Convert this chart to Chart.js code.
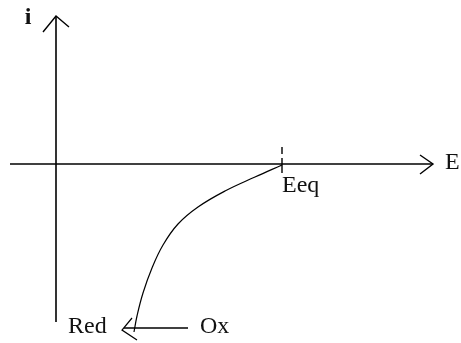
<!DOCTYPE html>
<html>
<head>
<meta charset="utf-8">
<script src="https://cdn.jsdelivr.net/npm/chart.js@4"></script>
<style>
  html, body { margin: 0; padding: 0; background: #fff; }
  canvas { display: block; }
</style>
</head>
<body>
<canvas id="chart-sketch" width="461" height="343"></canvas>
<script>
// i-E sketch: axes, reduction wave from Eeq down to Red <- Ox
const eAxis = [{ x: -46, y: 0 }, { x: 377, y: 0 }];
const eArrow = [{ x: 364, y: 9 }, { x: 377, y: 0 }, { x: 364, y: -10 }];
const iAxis = [{ x: 0, y: -158 }, { x: 0, y: 148 }];
const iArrow = [{ x: -13, y: 132 }, { x: 0, y: 148 }, { x: 13, y: 137 }];
const eqTickTop = [{ x: 226, y: 17 }, { x: 226, y: 10 }];
const eqTickBottom = [{ x: 226, y: 6 }, { x: 226, y: -9 }];

const curveE = [226, 199, 169, 142, 122, 107, 96, 87, 81, 78];
const curveI = [-1, -13, -27, -43, -60, -81, -104, -129, -152, -168];

const oxLine = [{ x: 132, y: -164 }, { x: 68, y: -164 }];
const redArrow = [{ x: 76, y: -154 }, { x: 66, y: -166 }, { x: 81, y: -176 }];

const labels = [
    { text: 'i', x: -28, y: 146, align: 'center', bold: true },
    { text: 'E', x: 389, y: 1, align: 'left' },
    { text: 'Eeq', x: 226, y: -22, align: 'left' },
    { text: 'Red', x: 12, y: -163, align: 'left' },
    { text: 'Ox', x: 144, y: -163, align: 'left' },
];

const INK = '#000';

function lineSet(data, width, extra) {
    return {
        data,
        showLine: true,
        borderColor: INK,
        borderWidth: width,
        pointRadius: 0,
        pointHoverRadius: 0,
        fill: false,
        tension: 0,
        ...extra,
    };
}

const labelPlugin = {
    id: 'sketchLabels',
    afterDatasetsDraw(chart) {
        const { ctx, scales } = chart;
        ctx.save();
        ctx.fillStyle = '#111';
        ctx.textBaseline = 'middle';
        labels.forEach(l => {
            ctx.font = (l.bold ? 'bold ' : '') + '24px "Liberation Serif", "Times New Roman", serif';
            ctx.textAlign = l.align;
            ctx.fillText(l.text, scales.x.getPixelForValue(l.x), scales.y.getPixelForValue(l.y));
        });
        ctx.restore();
    },
};

const curve = curveE.map((e, k) => ({ x: e, y: curveI[k] }));

new Chart(document.getElementById('chart-sketch').getContext('2d'), {
    type: 'scatter',
    data: {
        datasets: [
            lineSet(eAxis, 1.6),
            lineSet(eArrow, 1.4),
            lineSet(iAxis, 1.6),
            lineSet(iArrow, 1.4),
            lineSet(eqTickTop, 1.4),
            lineSet(eqTickBottom, 1.4),
            lineSet(curve, 1.2, { tension: 0.4 }),
            lineSet(oxLine, 1.4),
            lineSet(redArrow, 1.2),
        ],
    },
    plugins: [labelPlugin],
    options: {
        responsive: false,
        animation: false,
        layout: { padding: 0, autoPadding: false },
        plugins: { legend: { display: false }, tooltip: { enabled: false } },
        scales: {
            x: { type: 'linear', min: -56, max: 405, display: false },
            y: { type: 'linear', min: -179, max: 164, display: false },
        },
    },
});
</script>
</body>
</html>
